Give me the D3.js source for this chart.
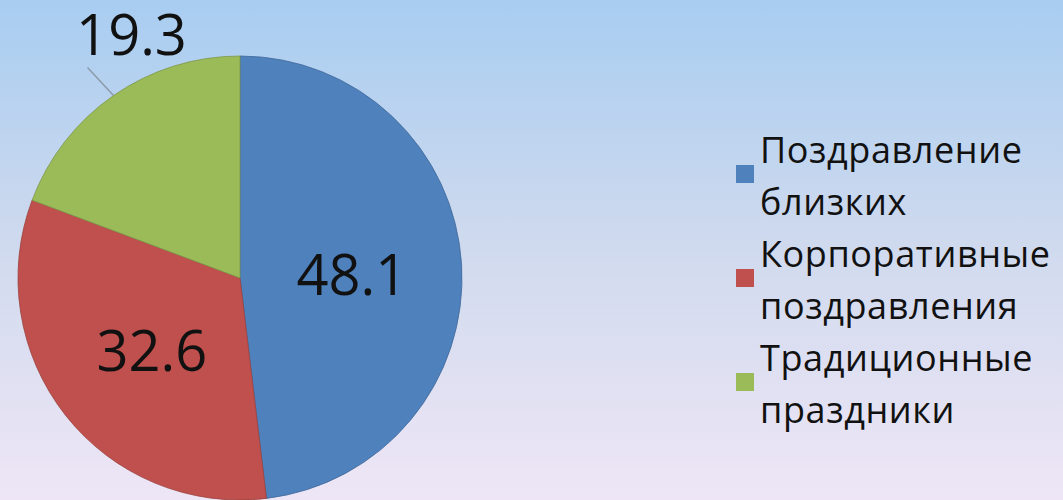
<!DOCTYPE html>
<html>
<head>
<meta charset="utf-8">
<script src="https://cdn.jsdelivr.net/npm/d3@7"></script>
<style>
  html, body { margin: 0; padding: 0; }
  body { width: 1063px; height: 500px; overflow: hidden; }
  svg { display: block; }
</style>
</head>
<body>
<svg id="chart" width="1063" height="500"></svg>
<script>
// Share of greeting occasions, percent
const categories = ["Поздравление близких", "Корпоративные поздравления", "Традиционные праздники"];
const legendLines = [["Поздравление", "близких"], ["Корпоративные", "поздравления"], ["Традиционные", "праздники"]];
const values = [48.1, 32.6, 19.3];
const colors = ["#4f81bd", "#c0504d", "#9bbb59"];

const W = 1063, H = 500;
const svg = d3.select("#chart");
const font = "'Open Sans', 'Noto Sans', sans-serif";

// background gradient
const defs = svg.append("defs");
const grad = defs.append("linearGradient").attr("id", "bg")
  .attr("x1", 0).attr("y1", 0).attr("x2", 0).attr("y2", 1);
grad.append("stop").attr("offset", "0%").attr("stop-color", "#a8cdf1");
grad.append("stop").attr("offset", "50%").attr("stop-color", "#d0daee");
grad.append("stop").attr("offset", "100%").attr("stop-color", "#eee6f6");
svg.append("rect").attr("width", W).attr("height", H).attr("fill", "url(#bg)");

// pie
const cx = 240, cy = 278, R = 222;
const data = categories.map((c, i) => ({ name: c, value: values[i], color: colors[i] }));
const pie = d3.pie().value(d => d.value).sort(null);
const arcs = pie(data);
const arc = d3.arc().innerRadius(0).outerRadius(R);

const g = svg.append("g").attr("transform", `translate(${cx},${cy})`);
g.selectAll("path.slice").data(arcs).join("path")
  .attr("class", "slice")
  .attr("d", arc)
  .attr("fill", d => d.data.color)
  .attr("stroke", d => d3.color(d.data.color).darker(0.6))
  .attr("stroke-width", 0.8);

// inner labels for the two large slices
const labelArc = d3.arc().innerRadius(112).outerRadius(112);
g.selectAll("text.inner").data(arcs.slice(0, 2)).join("text")
  .attr("class", "inner")
  .attr("transform", d => {
    const [x, y] = labelArc.centroid(d);
    return `translate(${x},${y})`;
  })
  .attr("text-anchor", "middle")
  .attr("dy", "0.42em")
  .attr("font-family", font)
  .attr("font-size", 56)
  .attr("fill", "#111")
  .text(d => d.data.value.toFixed(1));

// outside label with leader line for the smallest slice
const small = arcs[2];
const mid = (small.startAngle + small.endAngle) / 2;
const p0 = [R * Math.sin(mid), -R * Math.cos(mid)];
const p1 = [p0[0] - 26, p0[1] - 28];
g.append("line")
  .attr("x1", p0[0]).attr("y1", p0[1])
  .attr("x2", p1[0]).attr("y2", p1[1])
  .attr("stroke", "#8c9aa8").attr("stroke-width", 1.5);
g.append("text")
  .attr("x", p1[0] + 44).attr("y", p1[1] - 13)
  .attr("text-anchor", "middle")
  .attr("font-family", font)
  .attr("font-size", 56)
  .attr("fill", "#111")
  .text(small.data.value.toFixed(1));

// legend
const lineStep = 52;
const legend = svg.append("g").attr("transform", "translate(736,0)");
const items = legend.selectAll("g.item").data(data).join("g").attr("class", "item");
items.append("rect")
  .attr("x", 0)
  .attr("y", (d, i) => 165 + i * 2 * lineStep)
  .attr("width", 18).attr("height", 18)
  .attr("fill", d => d.color);
items.each(function (d, i) {
  d3.select(this).selectAll("text").data(legendLines[i]).join("text")
    .attr("x", 24)
    .attr("y", (t, j) => 163 + (i * 2 + j) * lineStep)
    .attr("font-family", font)
    .attr("font-size", 36)
    .attr("letter-spacing", 0.6)
    .attr("fill", "#111")
    .text(t => t);
});
</script>
</body>
</html>
